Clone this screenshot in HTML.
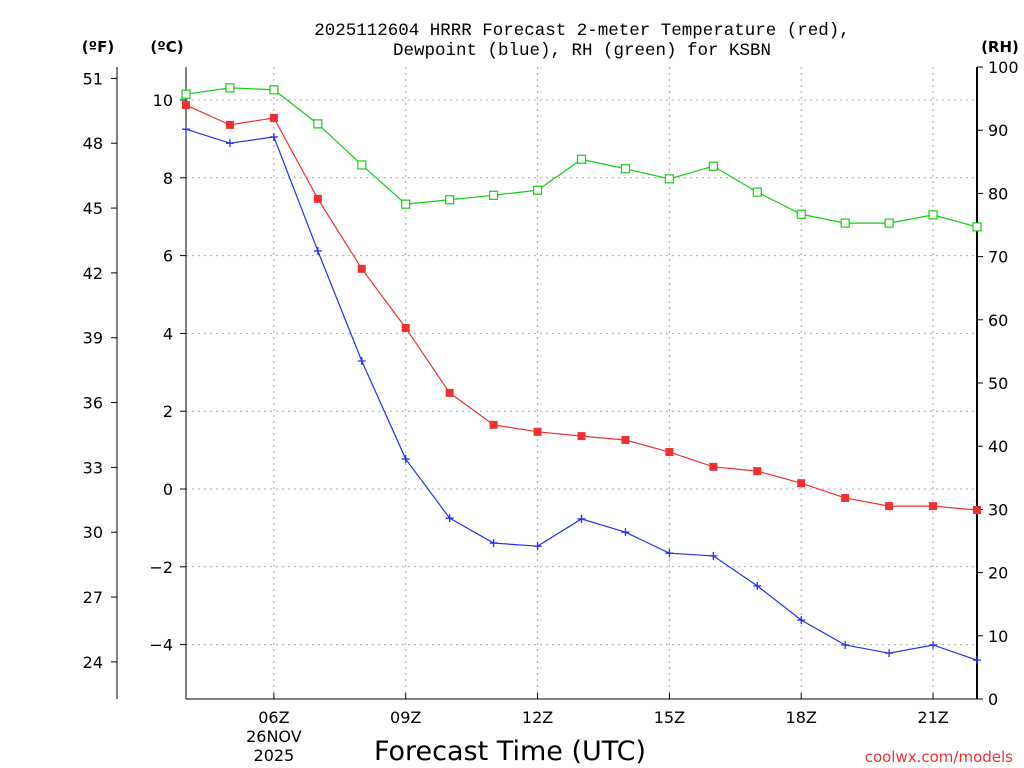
<!DOCTYPE html>
<html><head><meta charset="utf-8"><style>
body{margin:0;background:#fff;}
svg{display:block;font-family:"DejaVu Sans","Liberation Sans",sans-serif;}
</style></head><body>
<svg id="chart" width="1024" height="768" xmlns="http://www.w3.org/2000/svg">
<rect width="1024" height="768" fill="#fff"/>
<text x="582" y="35" text-anchor="middle" font-size="17.5" font-family="Liberation Mono, monospace">2025112604 HRRR Forecast 2-meter Temperature (red),</text>
<text x="582" y="55" text-anchor="middle" font-size="17.5" font-family="Liberation Mono, monospace">Dewpoint (blue), RH (green) for KSBN</text>
<text x="98" y="52" text-anchor="middle" font-size="15" font-weight="bold">(ºF)</text>
<text x="167" y="52" text-anchor="middle" font-size="15" font-weight="bold">(ºC)</text>
<text x="1000" y="52" text-anchor="middle" font-size="15" font-weight="bold">(RH)</text>
<text x="510" y="760" text-anchor="middle" font-size="27">Forecast Time (UTC)</text>
<text x="1013" y="762" text-anchor="end" font-size="15" fill="#f03030">coolwx.com/models</text>
<g id="grid"></g><g id="axes"></g><g id="series"></g>
</svg>
<script>
const hours=[4,5,6,7,8,9,10,11,12,13,14,15,16,17,18,19,20,21,22];
const tempC=[9.87,9.36,9.54,7.46,5.66,4.14,2.47,1.65,1.47,1.36,1.26,0.95,0.57,0.46,0.15,-0.23,-0.44,-0.44,-0.54];
const dewC=[9.25,8.89,9.05,6.12,3.29,0.77,-0.75,-1.39,-1.47,-0.77,-1.11,-1.65,-1.72,-2.49,-3.37,-4.01,-4.22,-4.01,-4.40];
const rh=[95.7,96.7,96.4,91.0,84.5,78.3,79.0,79.7,80.5,85.4,83.9,82.3,84.3,80.2,76.7,75.3,75.3,76.6,74.7];
const cTicks=[-4,-2,0,2,4,6,8,10];
const fTicks=[24,27,30,33,36,39,42,45,48,51];
const rhTicks=[0,10,20,30,40,50,60,70,80,90,100];
const xTicks=[6,9,12,15,18,21];
const xLabels=["06Z","09Z","12Z","15Z","18Z","21Z"];
const L=186,R=977,T=67,B=699;
const xs=h=>L+(h-4)*(R-L)/18;
const yc=c=>489-c*38.9;
const yf=f=>yc((f-32)/1.8);
const yr=v=>B-v*(B-T)/100;
const NS="http://www.w3.org/2000/svg";
function mk(parent,tag,attrs,text){const e=document.createElementNS(NS,tag);for(const k in attrs)e.setAttribute(k,attrs[k]);if(text!==undefined)e.textContent=text;document.getElementById(parent).appendChild(e);return e;}
xTicks.forEach(h=>{const e=mk('grid','line',{x1:xs(h),x2:xs(h),y1:T,y2:B,stroke:'#aaa','stroke-dasharray':'2,4'});

});
cTicks.forEach(c=>{const e=mk('grid','line',{x1:L,x2:R,y1:yc(c),y2:yc(c),stroke:'#aaa','stroke-dasharray':'2,4'});

});
let a=mk('axes','line',{x1:L,x2:L,y1:T,y2:B,stroke:'#000','stroke-width':1});


a=mk('axes','line',{x1:R,x2:R,y1:T,y2:B,stroke:'#000','stroke-width':2});


a=mk('axes','line',{x1:L,x2:R,y1:B,y2:B,stroke:'#000','stroke-width':1});


a=mk('axes','line',{x1:117,x2:117,y1:T,y2:B,stroke:'#000','stroke-width':1});


cTicks.forEach(c=>{mk('axes','line',{x1:L-6,x2:L,y1:yc(c),y2:yc(c),stroke:'#000'});
const t=mk('axes','text',{x:173,y:yc(c)+6,'text-anchor':'end','font-size':16},c<0?'\u2212'+(-c):String(c));

});
fTicks.forEach(f=>{mk('axes','line',{x1:111,x2:117,y1:yf(f),y2:yf(f),stroke:'#000'});
const t=mk('axes','text',{x:103,y:yf(f)+6,'text-anchor':'end','font-size':16},String(f));

});
rhTicks.forEach(v=>{mk('axes','line',{x1:R,x2:R+6,y1:yr(v),y2:yr(v),stroke:'#000'});
const t=mk('axes','text',{x:988,y:yr(v)+6,'font-size':16},String(v));

});
xTicks.forEach((h,i)=>{mk('axes','line',{x1:xs(h),x2:xs(h),y1:B,y2:B-6,stroke:'#000'});
const t=mk('axes','text',{x:xs(h),y:723,'text-anchor':'middle','font-size':16},xLabels[i]);

});
let d=mk('axes','text',{x:xs(6),y:742,'text-anchor':'middle','font-size':16},'26NOV');


d=mk('axes','text',{x:xs(6),y:761,'text-anchor':'middle','font-size':16},'2025');


function line(vals,yf2,color,name){const pts=vals.map((v,i)=>xs(hours[i])+','+yf2(v)).join(' ');
const e=mk('series','polyline',{points:pts,fill:'none',stroke:color,'stroke-width':1.2});

}
line(rh,yr,'#10d010','rh-line');
line(tempC,yc,'#f03030','temperature-line');
line(dewC,yc,'#2030f0','dewpoint-line');
rh.forEach((v,i)=>{const e=mk('series','rect',{x:xs(hours[i])-4,y:yr(v)-4,width:8,height:8,fill:'#fff',stroke:'#10d010','stroke-width':1.2});

});
tempC.forEach((v,i)=>{const e=mk('series','rect',{x:xs(hours[i])-4,y:yc(v)-4,width:8,height:8,fill:'#f03030'});

});
dewC.forEach((v,i)=>{const x=xs(hours[i]),y=yc(v);
const e=mk('series','path',{d:`M${x-4},${y}H${x+4}M${x},${y-4}V${y+4}`,stroke:'#2030f0','stroke-width':1.3});

});
</script>
</body></html>
